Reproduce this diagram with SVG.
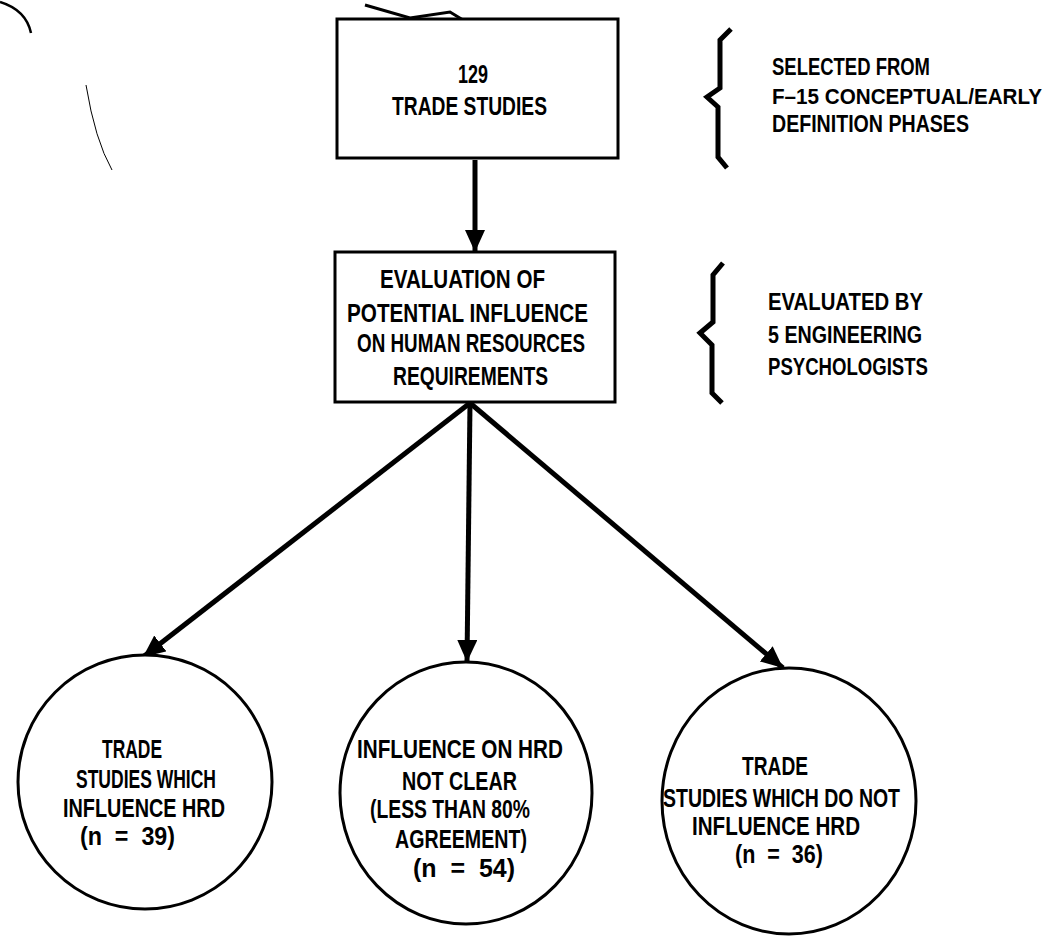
<svg xmlns="http://www.w3.org/2000/svg" width="1057" height="941" viewBox="0 0 1057 941">
<style>
.t{font-family:"Liberation Sans",Arial,sans-serif;font-weight:bold;fill:#000;white-space:pre}
.box{fill:#fff;stroke:#000;stroke-width:3}
.circ{fill:#fff;stroke:#000;stroke-width:3}
.brace{fill:none;stroke:#000;stroke-width:5;stroke-linejoin:miter}
.conn{stroke:#000;stroke-width:5;fill:none}
.mark{fill:none;stroke:#000}
</style>
<defs>
<marker id="ah" markerUnits="userSpaceOnUse" markerWidth="24" markerHeight="22" refX="22" refY="10" orient="auto">
<path d="M0,0 L22,10 L0,20 z" fill="#000"/>
</marker>
</defs>
<rect width="1057" height="941" fill="#fff"/>

<g id="artifacts">
<path class="mark" stroke-width="2.5" d="M0,2 Q26,10 31,33"/>
<path class="mark" stroke-width="1" d="M86,85 Q95,140 112,170"/>
<path class="mark" stroke-width="3" d="M365,5 L410,18 L450,12 L468,23"/>
<path class="mark" stroke-width="4" d="M770,891 L800,893 L802,912"/>
</g>

<g id="connectors">
<line class="conn" x1="475" y1="160" x2="475" y2="252" marker-end="url(#ah)"/>
<line class="conn" x1="470" y1="403" x2="143" y2="657" marker-end="url(#ah)"/>
<line class="conn" x1="470" y1="403" x2="467" y2="662" marker-end="url(#ah)"/>
<line class="conn" x1="470" y1="403" x2="783" y2="668" marker-end="url(#ah)"/>
</g>

<g id="node-trade-studies">
<rect class="box" x="337" y="19" width="281" height="139"/>
<text class="t" font-size="26" x="458" y="83" textLength="30" lengthAdjust="spacingAndGlyphs">129</text>
<text class="t" font-size="26" x="392" y="115" textLength="155" lengthAdjust="spacingAndGlyphs">TRADE STUDIES</text>
</g>

<g id="note-selected">
<path class="brace" d="M731,29 L720,40 L720,88 L707,97 L718,107 L718,157 L727,168"/>
<text class="t" font-size="24" x="772" y="75" textLength="158" lengthAdjust="spacingAndGlyphs">SELECTED FROM</text>
<text class="t" font-size="21.5" x="772" y="104" textLength="270" lengthAdjust="spacingAndGlyphs">F–15 CONCEPTUAL/EARLY</text>
<text class="t" font-size="24" x="772" y="132" textLength="197" lengthAdjust="spacingAndGlyphs">DEFINITION PHASES</text>
</g>

<g id="node-evaluation">
<rect class="box" x="335" y="252" width="280" height="150"/>
<text class="t" font-size="26" x="380" y="288" textLength="165" lengthAdjust="spacingAndGlyphs">EVALUATION OF</text>
<text class="t" font-size="26" x="347" y="322" textLength="241" lengthAdjust="spacingAndGlyphs">POTENTIAL INFLUENCE</text>
<text class="t" font-size="26" x="357" y="352" textLength="228" lengthAdjust="spacingAndGlyphs">ON HUMAN RESOURCES</text>
<text class="t" font-size="26" x="393" y="385" textLength="155" lengthAdjust="spacingAndGlyphs">REQUIREMENTS</text>
</g>

<g id="note-evaluated">
<path class="brace" d="M723,263 L713,275 L713,322 L700,333 L712,345 L712,393 L722,403"/>
<text class="t" font-size="24" x="768" y="310" textLength="155" lengthAdjust="spacingAndGlyphs">EVALUATED BY</text>
<text class="t" font-size="24" x="768" y="343" textLength="154" lengthAdjust="spacingAndGlyphs">5 ENGINEERING</text>
<text class="t" font-size="24" x="768" y="375" textLength="160" lengthAdjust="spacingAndGlyphs">PSYCHOLOGISTS</text>
</g>

<g id="node-influence">
<circle class="circ" cx="145" cy="782" r="127"/>
<text class="t" font-size="25" x="102" y="758" textLength="60" lengthAdjust="spacingAndGlyphs">TRADE</text>
<text class="t" font-size="25" x="76" y="788" textLength="140" lengthAdjust="spacingAndGlyphs">STUDIES WHICH</text>
<text class="t" font-size="25" x="63" y="817" textLength="162" lengthAdjust="spacingAndGlyphs">INFLUENCE HRD</text>
<text class="t" font-size="25" x="80" y="845" textLength="95" lengthAdjust="spacingAndGlyphs">(n  =  39)</text>
</g>

<g id="node-not-clear">
<ellipse class="circ" cx="466" cy="793" rx="126" ry="131"/>
<text class="t" font-size="25" x="357" y="758" textLength="206" lengthAdjust="spacingAndGlyphs">INFLUENCE ON HRD</text>
<text class="t" font-size="25" x="402" y="790" textLength="115" lengthAdjust="spacingAndGlyphs">NOT CLEAR</text>
<text class="t" font-size="25" x="370" y="818" textLength="160" lengthAdjust="spacingAndGlyphs">(LESS THAN 80%</text>
<text class="t" font-size="25" x="395" y="848" textLength="132" lengthAdjust="spacingAndGlyphs">AGREEMENT)</text>
<text class="t" font-size="25" x="413" y="877" textLength="102" lengthAdjust="spacingAndGlyphs">(n  =  54)</text>
</g>

<g id="node-no-influence">
<ellipse class="circ" cx="789" cy="801" rx="127" ry="133"/>
<text class="t" font-size="25" x="742" y="775" textLength="66" lengthAdjust="spacingAndGlyphs">TRADE</text>
<text class="t" font-size="25" x="663" y="807" textLength="237" lengthAdjust="spacingAndGlyphs">STUDIES WHICH DO NOT</text>
<text class="t" font-size="25" x="692" y="835" textLength="168" lengthAdjust="spacingAndGlyphs">INFLUENCE HRD</text>
<text class="t" font-size="25" x="735" y="863" textLength="88" lengthAdjust="spacingAndGlyphs">(n  =  36)</text>
</g>
</svg>
